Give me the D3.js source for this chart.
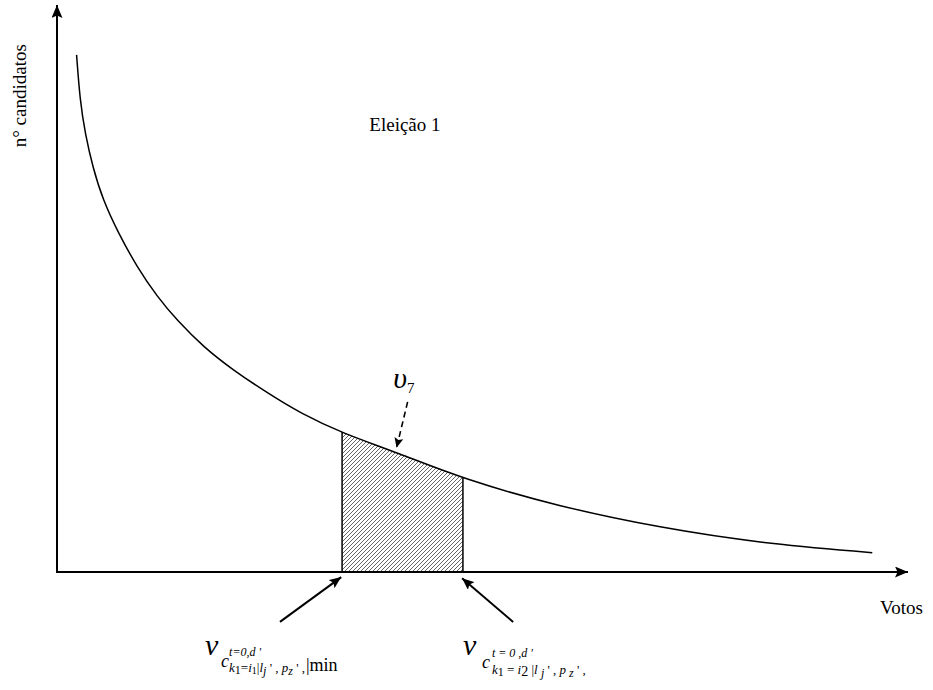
<!DOCTYPE html>
<html>
<head>
<meta charset="utf-8">
<script src="https://cdn.jsdelivr.net/npm/d3@7"></script>
<style>
  body { margin: 0; background: #fff; }
  svg text { font-family: "Liberation Serif", "Times New Roman", Tinos, "DejaVu Serif", "Noto Serif", serif; }
</style>
</head>
<body>
<svg id="chart" width="933" height="690"></svg>
<script>
// curve (x = votos, y = n° candidatos, both 0..100)
let curveX = [2.3, 2.7, 3.3, 4.2, 5.4, 7.2, 9.4, 11.8, 14.1, 17.2, 20.7, 24.7, 28.6, 33.5, 40.1, 47.7, 59.1, 70.9, 82.6, 95.8];
let curveY = [91.2, 83.2, 77.4, 71.4, 65.6, 59.8, 53.8, 48.5, 44.4, 39.7, 35.6, 31.6, 28.0, 24.5, 21.0, 16.4, 11.5, 7.8, 5.1, 3.4];

// shaded band between two vote counts
let bandFrom = 33.5;
let bandTo = 47.7;

// annotation arrows [x1, y1, x2, y2] in data units
let arrowLeft = [26.2, -8.8, 33.4, -0.9];
let arrowRight = [53.6, -8.8, 47.6, -1.1];
let arrowV7 = [41.2, 30.0, 39.9, 21.9];

// text labels
let titleText = "Eleição 1";
let xLabel = "Votos";
let yLabel = "n° candidatos";

let svg = d3.select("#chart");
let xScale = d3.scaleLinear().domain([0, 100]).range([57, 908]);
let yScale = d3.scaleLinear().domain([0, 100]).range([572, 5]);

let points = curveX.map((x, i) => ({x: x, y: curveY[i]}));

let defs = svg.append("defs");
// arrow heads
function addMarker(id, w, h) {
    defs.append("marker")
        .attr("id", id)
        .attr("viewBox", "0 0 " + w + " " + h)
        .attr("markerUnits", "userSpaceOnUse")
        .attr("markerWidth", w)
        .attr("markerHeight", h)
        .attr("refX", w)
        .attr("refY", h / 2)
        .attr("orient", "auto")
        .append("path")
        .attr("d", "M0,0 L" + w + "," + (h / 2) + " L0," + h + " L" + (w * 0.2) + "," + (h / 2) + " Z")
        .attr("fill", "#000");
}
addMarker("headBig", 13, 11);
addMarker("headSmall", 12, 10);
addMarker("headDash", 10, 9);

// hatch
defs.append("pattern")
    .attr("id", "hatch")
    .attr("patternUnits", "userSpaceOnUse")
    .attr("width", 4)
    .attr("height", 4)
    .append("path")
    .attr("d", "M-1,1 L1,-1 M0,4 L4,0 M3,5 L5,3")
    .attr("stroke", "#555")
    .attr("stroke-width", 0.9);

defs.append("clipPath")
    .attr("id", "bandClip")
    .append("rect")
    .attr("x", xScale(bandFrom))
    .attr("y", 0)
    .attr("width", xScale(bandTo) - xScale(bandFrom))
    .attr("height", yScale(0));

let curveType = d3.curveBasis;

// shaded area under the curve
let area = d3.area()
    .x(d => xScale(d.x))
    .y0(yScale(0))
    .y1(d => yScale(d.y))
    .curve(curveType);
svg.append("path")
    .datum(points)
    .attr("d", area)
    .attr("fill", "url(#hatch)")
    .attr("clip-path", "url(#bandClip)");

// curve
let line = d3.line()
    .x(d => xScale(d.x))
    .y(d => yScale(d.y))
    .curve(curveType);
let curvePath = svg.append("path")
    .datum(points)
    .attr("d", line)
    .attr("fill", "none")
    .attr("stroke", "#000")
    .attr("stroke-width", 1.5);

// height of the drawn curve at a given x, for the band edges
function curveAt(px) {
    let node = curvePath.node();
    let len = node.getTotalLength();
    let lo = 0, hi = len;
    for (let k = 0; k < 40; k++) {
        let mid = (lo + hi) / 2;
        if (node.getPointAtLength(mid).x < px) lo = mid; else hi = mid;
    }
    return node.getPointAtLength(lo).y;
}
[bandFrom, bandTo].forEach(v => {
    let px = xScale(v);
    svg.append("line")
        .attr("x1", px).attr("x2", px)
        .attr("y1", yScale(0)).attr("y2", curveAt(px))
        .attr("stroke", "#000")
        .attr("stroke-width", 1.5);
});

// axes with arrows
svg.append("line")
    .attr("x1", xScale(0)).attr("y1", yScale(0))
    .attr("x2", xScale(100)).attr("y2", yScale(0))
    .attr("stroke", "#000").attr("stroke-width", 2)
    .attr("marker-end", "url(#headBig)");
svg.append("line")
    .attr("x1", xScale(0)).attr("y1", yScale(0) + 1)
    .attr("x2", xScale(0)).attr("y2", yScale(100))
    .attr("stroke", "#000").attr("stroke-width", 2)
    .attr("marker-end", "url(#headBig)");

// annotation arrows
[arrowLeft, arrowRight].forEach(a => {
    svg.append("line")
        .attr("x1", xScale(a[0])).attr("y1", yScale(a[1]))
        .attr("x2", xScale(a[2])).attr("y2", yScale(a[3]))
        .attr("stroke", "#000").attr("stroke-width", 2)
        .attr("marker-end", "url(#headSmall)");
});
svg.append("line")
    .attr("x1", xScale(arrowV7[0])).attr("y1", yScale(arrowV7[1]))
    .attr("x2", xScale(arrowV7[2])).attr("y2", yScale(arrowV7[3]))
    .attr("stroke", "#000").attr("stroke-width", 1.6)
    .attr("stroke-dasharray", "6,4")
    .attr("marker-end", "url(#headDash)");

// plain labels
svg.append("text")
    .attr("x", xScale(36.7)).attr("y", yScale(77.7))
    .attr("font-size", 19)
    .text(titleText);
svg.append("text")
    .attr("x", xScale(96.7)).attr("y", yScale(-7.4))
    .attr("font-size", 19)
    .text(xLabel);
svg.append("text")
    .attr("transform", "translate(26," + yScale(84) + ") rotate(-90)")
    .attr("text-anchor", "middle")
    .attr("font-size", 19)
    .text(yLabel);

// v7 label
let v7 = svg.append("text")
    .attr("x", xScale(39.5)).attr("y", yScale(32.4))
    .attr("font-style", "italic");
v7.append("tspan").attr("font-size", 30).text("υ");
v7.append("tspan").attr("font-size", 15).attr("dy", 5).attr("font-style", "normal").text("7");

// formula labels under the axis
function formula(x, y, spaced, tail) {
    let g = svg.append("g")
        .attr("transform", "translate(" + xScale(x) + "," + yScale(y) + ")")
        .attr("font-style", "italic");
    let sp = spaced ? " " : "";
    g.append("text").attr("x", 0).attr("y", 0).attr("font-size", 30).text("v");
    let cx = spaced ? 19 : 16;
    g.append("text").attr("x", cx).attr("y", spaced ? 13 : 12).attr("font-size", 18).text("c");
    let sx = cx + (spaced ? 10 : 8);
    g.append("text").attr("x", sx).attr("y", spaced ? 2 : 1).attr("font-size", 12)
        .text("t" + sp + "=" + sp + "0" + sp + "," + "d" + sp + " '");
    let sub = g.append("text").attr("x", sx).attr("y", spaced ? 19 : 17).attr("font-size", 13);
    sub.append("tspan").text("k");
    sub.append("tspan").attr("font-style", "normal").attr("font-size", 12).attr("dy", 2).text("1");
    sub.append("tspan").attr("font-style", "normal").attr("dy", -2).text(sp + "=" + sp);
    sub.append("tspan").text("i");
    sub.append("tspan").attr("font-style", "normal").attr("font-size", spaced ? 14 : 10).attr("dy", 2).text(spaced ? "2" : "1");
    sub.append("tspan").attr("font-style", "normal").attr("dy", -2).text(sp + "|");
    sub.append("tspan").text("l" + sp);
    sub.append("tspan").attr("font-size", 12).attr("dy", 3).text("j");
    sub.append("tspan").attr("font-style", "normal").attr("dy", -3).text(" ' , ");
    sub.append("tspan").text("p");
    sub.append("tspan").attr("font-size", 12).attr("dy", 3).text(sp + "z");
    sub.append("tspan").attr("font-style", "normal").attr("dy", -3).text(" ' ,");
    if (tail) {
        let bb = sub.node().getBBox();
        g.append("text").attr("x", bb.x + bb.width + 1).attr("y", 16).attr("font-size", 18)
            .attr("font-style", "normal").text(tail);
    }
}
formula(17.4, -14.6, false, "|min");
formula(47.7, -14.6, true, null);
</script>
</body>
</html>
